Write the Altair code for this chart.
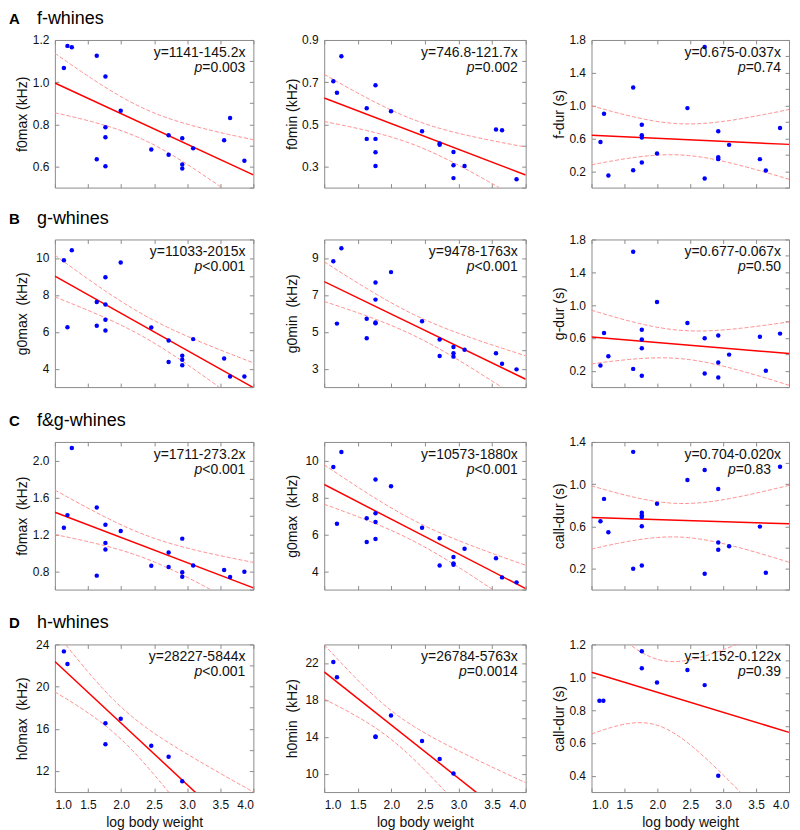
import numpy as np
import pandas as pd
import altair as alt

FONT = "Liberation Sans"

# ---------------- data ----------------
# x = log body weight
X_STD = [1.136, 1.19, 1.256, 1.633, 1.633, 1.764, 1.764, 1.764, 1.764, 1.995,
         2.457, 2.719, 2.719, 2.925, 2.925, 2.925, 3.09, 3.558, 3.648, 3.864]
X_C1 = [1.136, 1.19, 1.256, 1.633, 1.633, 1.764, 1.764, 1.764, 1.995,
        2.457, 2.719, 2.719, 2.925, 2.925, 2.925, 3.09, 3.558, 3.648, 3.864]
X_C3 = [1.136, 1.19, 1.256, 1.633, 1.633, 1.764, 1.764, 1.764, 1.764, 1.764, 1.995,
        2.457, 2.719, 2.719, 2.925, 2.925, 2.925, 3.09, 3.558, 3.648, 3.864]
X_D = [1.136, 1.19, 1.764, 1.764, 1.995, 2.457, 2.719, 2.925]
X_D3 = [1.12, 1.18, 1.764, 1.764, 1.995, 2.457, 2.719, 2.925]

A1_Y = [1.067, 1.172, 1.165, 1.125, 0.634, 1.027, 0.786, 0.739, 0.601, 0.864,
        0.681, 0.748, 0.656, 0.734, 0.610, 0.591, 0.686, 0.725, 0.830, 0.627]
A2_Y = [0.704, 0.650, 0.823, 0.576, 0.431, 0.685, 0.431, 0.368, 0.302, 0.562,
        0.467, 0.409, 0.403, 0.369, 0.306, 0.245, 0.302, 0.475, 0.472, 0.240]
A3_Y = [0.557, 0.901, 0.147, 1.221, 0.212, 0.767, 0.637, 0.612, 0.306, 0.415,
        0.969, 1.715, 0.111, 0.686, 0.371, 0.347, 0.521, 0.347, 0.208, 0.727]
B1_Y = [9.875, 6.244, 10.41, 7.61, 6.32, 8.95, 7.47, 6.65, 6.07, 9.75,
        6.23, 5.53, 4.36, 4.70, 4.48, 4.18, 5.60, 4.55, 3.57, 3.57]
B2_Y = [8.82, 5.44, 9.52, 5.70, 4.65, 7.67, 6.74, 5.50, 5.46, 8.23,
        5.57, 4.58, 3.68, 4.17, 3.83, 3.65, 4.02, 3.83, 3.27, 2.96]
B3_Y = [0.262, 0.66, 0.376, 1.65, 0.222, 0.70, 0.579, 0.473, 0.137, 1.037,
        0.782, 0.595, 0.165, 0.628, 0.299, 0.116, 0.396, 0.615, 0.198, 0.652]
C1_Y = [1.271, 1.407, 2.135, 1.49, 0.751, 1.303, 1.106, 1.034, 1.235,
        0.858, 1.002, 0.844, 1.152, 0.787, 0.740, 0.862, 0.812, 0.736, 0.794]
C2_Y = [9.64, 6.57, 10.46, 6.86, 5.58, 8.97, 7.14, 6.66, 5.74, 8.60,
        6.35, 5.78, 4.31, 4.76, 4.42, 4.35, 5.21, 4.70, 3.66, 3.39]
C3_Y = [0.647, 0.86, 0.543, 1.306, 0.198, 0.728, 0.706, 0.688, 0.60, 0.229, 0.813,
        1.039, 1.133, 0.151, 0.954, 0.446, 0.377, 0.411, 0.597, 0.160, 1.165]
D1_Y = [23.34, 22.15, 16.52, 14.54, 16.96, 14.39, 13.35, 11.02]
D2_Y = [22.1, 20.44, 13.96, 14.03, 16.3, 13.54, 11.59, 10.0]
D3_Y = [0.857, 0.857, 1.158, 1.055, 0.968, 1.044, 0.952, 0.40]

PX = [X_STD, X_STD, X_STD, X_STD, X_STD, X_STD, X_C1, X_STD, X_C3, X_D, X_D, X_D3]
PY = [A1_Y, A2_Y, A3_Y, B1_Y, B2_Y, B3_Y, C1_Y, C2_Y, C3_Y, D1_Y, D2_Y, D3_Y]

# regression equations printed in the panels (Hz for frequency panels, s for durations)
INTERCEPT = [1141, 746.8, 0.675, 11033, 9478, 0.677, 1711, 10573, 0.704, 28227, 26784, 1.152]
SLOPE = [-145.2, -121.7, -0.037, -2015, -1763, -0.067, -273.2, -1880, -0.020, -5844, -5763, -0.122]
UNIT = [1000, 1000, 1, 1000, 1000, 1, 1000, 1000, 1, 1000, 1000, 1]

EQ_TEXT = ["y=1141-145.2x", "y=746.8-121.7x", "y=0.675-0.037x",
           "y=11033-2015x", "y=9478-1763x", "y=0.677-0.067x",
           "y=1711-273.2x", "y=10573-1880x", "y=0.704-0.020x",
           "y=28227-5844x", "y=26784-5763x", "y=1.152-0.122x"]
P_TEXT = ["=0.003", "=0.002", "=0.74",
          "<0.001", "<0.001", "=0.50",
          "<0.001", "<0.001", "=0.83",
          "<0.001", "=0.0014", "=0.39"]

NB = "\u00a0"
Y_TITLE = ["f0max (kHz)", "f0min (kHz)", "f-dur (s)",
           "g0max" + NB + " (kHz)", "g0min" + NB + " (kHz)", "g-dur (s)",
           "f0max" + NB + " (kHz)", "g0max" + NB + " (kHz)", "call-dur (s)",
           "h0max" + NB + " (kHz)", "h0min" + NB + " (kHz)", "call-dur (s)"]
Y_DOMAIN = [[0.5, 1.2], [0.2, 0.9], [0.0, 1.8],
            [3, 11], [2, 10], [0.0, 1.8],
            [0.6, 2.2], [3, 11], [0.0, 1.4],
            [10, 24], [8, 24], [0.3, 1.2]]
Y_TICKS = [[0.6, 0.8, 1.0, 1.2], [0.3, 0.5, 0.7, 0.9], [0.2, 0.6, 1.0, 1.4, 1.8],
           [4, 6, 8, 10], [3, 5, 7, 9], [0.2, 0.6, 1.0, 1.4, 1.8],
           [0.8, 1.2, 1.6, 2.0], [4, 6, 8, 10], [0.2, 0.6, 1.0, 1.4],
           [12, 16, 20, 24], [10, 14, 18, 22], [0.4, 0.6, 0.8, 1.0, 1.2]]
Y_MINOR = [[0.5, 0.6, 0.7, 0.8, 0.9, 1.0, 1.1, 1.2],
           [0.2, 0.3, 0.4, 0.5, 0.6, 0.7, 0.8, 0.9],
           [0.0, 0.2, 0.4, 0.6, 0.8, 1.0, 1.2, 1.4, 1.6, 1.8],
           [3, 4, 5, 6, 7, 8, 9, 10, 11],
           [2, 3, 4, 5, 6, 7, 8, 9, 10],
           [0.0, 0.2, 0.4, 0.6, 0.8, 1.0, 1.2, 1.4, 1.6, 1.8],
           [0.6, 0.8, 1.0, 1.2, 1.4, 1.6, 1.8, 2.0, 2.2],
           [3, 4, 5, 6, 7, 8, 9, 10, 11],
           [0.0, 0.2, 0.4, 0.6, 0.8, 1.0, 1.2, 1.4],
           [10, 12, 14, 16, 18, 20, 22, 24],
           [8, 10, 12, 14, 16, 18, 20, 22, 24],
           [0.3, 0.4, 0.5, 0.6, 0.7, 0.8, 0.9, 1.0, 1.1, 1.2]]
Y_FMT = [".1f", ".1f", ".1f", "d", "d", ".1f", ".1f", "d", ".1f", "d", "d", ".1f"]
X_TICKS = [1.0, 1.5, 2.0, 2.5, 3.0, 3.5, 4.0]
X_TITLE = "log body weight"

ROW_LETTER = ["A", "B", "C", "D"]
ROW_NAME = ["f-whines", "g-whines", "f&g-whines", "h-whines"]

# t quantiles (two-sided 95%) by degrees of freedom
T95 = {6: 2.447, 17: 2.110, 18: 2.101, 19: 2.093}

# ---------------- layout / style ----------------
W = [199, 202, 198]
H = 148
FRAME = "#8c8c8c"
BLUE = "#0000ff"
RED = "#ff0000"
PINK = "#ff8c8c"
P_DX = [0, 0, 0, 0, 0, 0, 0, 0, -10, 0, 0, 0]
HEAD_Y = -16

CW = {".": 0.278, "=": 0.584, "<": 0.584}


def text_w(s, fs):
    return sum(CW.get(c, 0.556) for c in s) * fs


def make_panel(k):
    row, col = divmod(k, 3)
    w = W[col]
    xs = np.array(PX[k], dtype=float)
    ys = np.array(PY[k], dtype=float)
    a, b, u = INTERCEPT[k], SLOPE[k], UNIT[k]
    n = len(xs)
    yhat = (a + b * xs) / u
    s = np.sqrt(np.sum((ys - yhat) ** 2) / (n - 2))
    xm = xs.mean()
    sxx = np.sum((xs - xm) ** 2)
    t = T95[n - 2]
    g = np.linspace(1.0, 4.0, 121)
    yg = (a + b * g) / u
    hw = t * s * np.sqrt(1.0 / n + (g - xm) ** 2 / sxx)
    band = pd.DataFrame({"x": np.concatenate([g, g]),
                         "y": np.concatenate([yg + hw, yg - hw]),
                         "side": ["hi"] * len(g) + ["lo"] * len(g)})
    fit = pd.DataFrame({"x": [1.0, 4.0], "y": [(a + b) / u, (a + 4 * b) / u]})
    pts = pd.DataFrame({"x": xs, "y": ys})

    xsc = alt.Scale(domain=[1.0, 4.0], nice=False, zero=False)
    ysc = alt.Scale(domain=Y_DOMAIN[k], nice=False, zero=False)
    last = row == 3

    bx = dict(orient="bottom", values=X_TICKS, format=".1f", labels=last,
              title=(X_TITLE if last else None),
              offset=-4, tickSize=4, domain=False, grid=False, labelPadding=7,
              titlePadding=6)
    ly = dict(orient="left", values=Y_TICKS[k], format=Y_FMT[k], title=Y_TITLE[k],
              offset=-4, tickSize=4, domain=False, grid=False, labelPadding=6,
              minExtent=27, maxExtent=27, titlePadding=2)
    tx = dict(orient="top", values=X_TICKS, labels=False, title=None, offset=-4,
              tickSize=4, domain=False, grid=False)
    ry = dict(orient="right", values=Y_MINOR[k], labels=False, title=None, offset=-4,
              tickSize=4, domain=False, grid=False)

    bands = alt.Chart(band).mark_line(color=PINK, strokeWidth=1, strokeDash=[4, 2],
                                      clip=True).encode(
        x=alt.X("x:Q", scale=xsc, axis=None),
        y=alt.Y("y:Q", scale=ysc, axis=None),
        detail="side:N")
    line = alt.Chart(fit).mark_line(color=RED, strokeWidth=1.5, clip=True).encode(
        x=alt.X("x:Q", scale=xsc, axis=alt.Axis(**tx)),
        y=alt.Y("y:Q", scale=ysc, axis=alt.Axis(**ry)))
    points = alt.Chart(pts).mark_circle(color=BLUE, size=20, opacity=1).encode(
        x=alt.X("x:Q", scale=xsc, axis=alt.Axis(**bx)),
        y=alt.Y("y:Q", scale=ysc, axis=alt.Axis(**ly)))

    eq = alt.Chart(pd.DataFrame({"t": [EQ_TEXT[k]]})).mark_text(
        align="right", baseline="alphabetic", font=FONT, fontSize=14, color="#111111"
    ).encode(x=alt.value(w - 8), y=alt.value(17), text="t:N")
    pv = alt.Chart(pd.DataFrame({"t": [P_TEXT[k]]})).mark_text(
        align="right", baseline="alphabetic", font=FONT, fontSize=14, color="#111111"
    ).encode(x=alt.value(w - 8 + P_DX[k]), y=alt.value(32), text="t:N")
    pl = alt.Chart(pd.DataFrame({"t": ["p"]})).mark_text(
        align="right", baseline="alphabetic", font=FONT, fontSize=14, fontStyle="italic",
        color="#111111"
    ).encode(x=alt.value(w - 8 + P_DX[k] - text_w(P_TEXT[k], 14)), y=alt.value(32),
             text="t:N")
    layers = [bands, line, points, eq, pv, pl]
    if col == 0:
        letter = alt.Chart(pd.DataFrame({"t": [ROW_LETTER[row]]})).mark_text(
            align="left", baseline="alphabetic", font=FONT, fontSize=15,
            fontWeight="bold", color="#000000"
        ).encode(x=alt.value(-46), y=alt.value(HEAD_Y), text="t:N")
        name = alt.Chart(pd.DataFrame({"t": [ROW_NAME[row]]})).mark_text(
            align="left", baseline="alphabetic", font=FONT, fontSize=18, color="#000000"
        ).encode(x=alt.value(-18), y=alt.value(HEAD_Y), text="t:N")
        layers += [letter, name]
    else:
        # invisible spacer so that every panel of a row has the same top extent
        spacer = alt.Chart(pd.DataFrame({"t": [ROW_NAME[row]]})).mark_text(
            align="center", baseline="alphabetic", font=FONT, fontSize=18, opacity=0
        ).encode(x=alt.value(w / 2), y=alt.value(HEAD_Y), text="t:N")
        layers += [spacer]
    return alt.layer(*layers).resolve_axis(x="independent", y="independent").properties(
        width=w, height=H)


def make_row(r):
    p = [make_panel(3 * r + c) for c in range(3)]
    left = alt.hconcat(p[0], p[1], spacing=30)
    return alt.hconcat(left, p[2], spacing=25)


rows = [make_row(r) for r in range(4)]
lower = alt.vconcat(rows[1], rows[2], rows[3], spacing=23)
chart = alt.vconcat(rows[0], lower, spacing=20).properties(
    padding={"left": 0, "top": 0, "right": 2, "bottom": 2}
).configure_view(stroke=FRAME, strokeWidth=1).configure_axis(
    labelFont=FONT, labelFontSize=12, labelColor="#111111",
    titleFont=FONT, titleFontSize=14, titleFontWeight="normal", titleColor="#111111",
    tickColor=FRAME, tickWidth=1
)

chart.save("out.html", embed_options={"renderer": "svg", "actions": False})
